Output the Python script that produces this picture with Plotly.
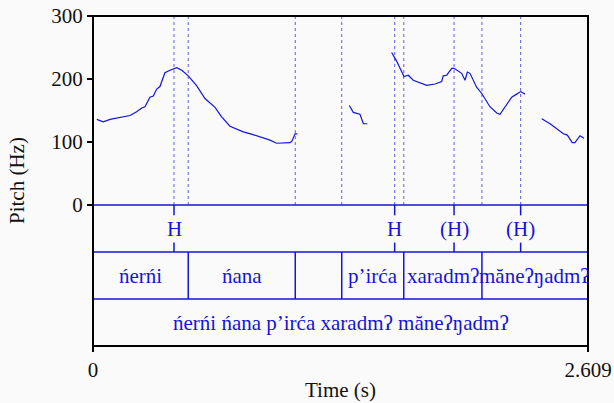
import plotly.graph_objects as go

# ---------------- data ----------------
T_END = 2.609
seg1_t = [0.020, 0.054, 0.090, 0.120, 0.160, 0.195, 0.230, 0.257, 0.274, 0.290, 0.300, 0.318, 0.336, 0.353,
          0.365, 0.379, 0.406, 0.441, 0.468, 0.502, 0.547, 0.590, 0.643, 0.678, 0.722, 0.792, 0.830,
          0.863, 0.933, 0.968, 1.021, 1.038, 1.048, 1.056, 1.065, 1.077]
seg1_f = [136, 132, 136, 138, 140, 142, 148, 154, 156, 165, 171, 173, 184, 188,
          200, 210, 214, 218, 214, 205, 189, 169, 155, 140, 125, 116, 113,
          110, 103, 98, 99, 99, 101, 106, 113, 113]
seg2_t = [1.351, 1.372, 1.407, 1.425, 1.446]
seg2_f = [158, 147, 144, 129, 129]
seg3_t = [1.574, 1.601, 1.639, 1.662, 1.688, 1.759, 1.803, 1.838, 1.846, 1.864, 1.891, 1.903, 1.943,
          1.961, 1.973, 1.987, 2.022, 2.049, 2.092, 2.128, 2.145, 2.207, 2.233, 2.254, 2.277]
seg3_f = [242, 228, 204, 206, 198, 190, 192, 196, 205, 206, 217, 217, 209,
          198, 211, 209, 187, 177, 156, 146, 144, 171, 176, 180, 176]
seg4_t = [2.365, 2.409, 2.479, 2.500, 2.526, 2.540, 2.567, 2.588]
seg4_f = [137, 129, 113, 111, 99, 99, 110, 106]

# tier 1 (points)
tone_times = [0.427, 1.590, 1.903, 2.254]
tone_labels = ["H", "H", "(H)", "(H)"]
# tier 2 (words)
word_bounds = [0.0, 0.502, 1.066, 1.311, 1.638, 2.050, T_END]
word_labels = ["ńerńi", "ńana", "", "p’irća", "xaradmʔ", "măneʔŋadmʔ"]
# tier 3 (phrase)
phrase_bounds = [0.0, T_END]
phrase_labels = ["ńerńi ńana p’irća xaradmʔ măneʔŋadmʔ"]

y_ticks = [0, 100, 200, 300]
x_ticks = [0, T_END]
x_ticktext = ["0", "2.609"]

# ---------------- styling ----------------
BLUE = "#1414d8"
DOT = "rgba(40,40,230,0.75)"
FONT = "Liberation Serif"
FS = 21

ts, fs = [], []
for a, b in [(seg1_t, seg1_f), (seg2_t, seg2_f), (seg3_t, seg3_f), (seg4_t, seg4_f)]:
    ts += a + [None]
    fs += b + [None]

fig = go.Figure()
fig.add_trace(go.Scatter(x=ts, y=fs, mode="lines", line=dict(color=BLUE, width=1.2),
                         connectgaps=False, hoverinfo="skip", xaxis="x", yaxis="y"))

top_frac = 189 / 330
split = 1 - top_frac

shapes = []
# dotted lines in pitch area
for t in sorted(set(tone_times + word_bounds[1:-1])):
    shapes.append(dict(type="line", xref="x", yref="y", x0=t, x1=t, y0=0, y1=300,
                       line=dict(color=DOT, width=1, dash="dot"), layer="above"))
# tier separators
shapes.append(dict(type="line", xref="paper", yref="paper", x0=0, x1=1, y0=split, y1=split,
                   line=dict(color=BLUE, width=1.5), layer="above"))
for yv in [2, 1]:
    shapes.append(dict(type="line", xref="x", yref="y2", x0=0, x1=T_END, y0=yv, y1=yv,
                       line=dict(color=BLUE, width=1.5)))
# word boundaries
for t in word_bounds[1:-1]:
    shapes.append(dict(type="line", xref="x", yref="y2", x0=t, x1=t, y0=1, y1=2,
                       line=dict(color=BLUE, width=1.5)))
# point marks
for t in tone_times:
    shapes.append(dict(type="line", xref="x", yref="y2", x0=t, x1=t, y0=2.78, y1=3,
                       line=dict(color=BLUE, width=1.5)))
    shapes.append(dict(type="line", xref="x", yref="y2", x0=t, x1=t, y0=2, y1=2.2,
                       line=dict(color=BLUE, width=1.5)))
# frame
shapes.append(dict(type="rect", xref="paper", yref="paper", x0=0, x1=1, y0=0, y1=1,
                   line=dict(color="black", width=2), layer="above"))

annotations = []
for t, lab in zip(tone_times, tone_labels):
    annotations.append(dict(x=t, y=2.5, xref="x", yref="y2", text=lab, showarrow=False,
                            font=dict(family=FONT, size=FS, color=BLUE)))
for i, lab in enumerate(word_labels):
    if lab:
        annotations.append(dict(x=(word_bounds[i] + word_bounds[i + 1]) / 2, y=1.5, xref="x", yref="y2",
                                text=lab, showarrow=False, font=dict(family=FONT, size=FS, color=BLUE)))
for i, lab in enumerate(phrase_labels):
    annotations.append(dict(x=(phrase_bounds[i] + phrase_bounds[i + 1]) / 2, y=0.5, xref="x", yref="y2",
                            text=lab, showarrow=False, font=dict(family=FONT, size=FS, color=BLUE)))
# axis titles
annotations.append(dict(x=0, y=0.5, xref="paper", yref="paper", xanchor="center", yanchor="middle",
                        xshift=-76, text="Pitch (Hz)", textangle=-90, showarrow=False,
                        font=dict(family=FONT, size=FS, color="#111")))
annotations.append(dict(x=0.5, y=0, xref="paper", yref="paper", xanchor="center", yanchor="middle",
                        yshift=-44, text="Time (s)", showarrow=False,
                        font=dict(family=FONT, size=FS, color="#111")))

fig.update_layout(
    width=614, height=403,
    margin=dict(l=93, r=26, t=16, b=57, autoexpand=False),
    paper_bgcolor="#fafafa", plot_bgcolor="#fafafa",
    showlegend=False,
    font=dict(family=FONT, size=FS, color="#111"),
    shapes=shapes, annotations=annotations,
    xaxis=dict(range=[0, T_END], anchor="y2", tickvals=x_ticks, ticktext=x_ticktext,
               ticks="outside", ticklen=5, tickwidth=2, tickcolor="black", showgrid=False,
               zeroline=False, showline=False, automargin=False),
    yaxis=dict(domain=[split, 1], range=[0, 300], tickvals=y_ticks,
               ticks="outside", ticklen=5, tickwidth=2, tickcolor="black", showgrid=False,
               zeroline=False, showline=False, automargin=False),
    yaxis2=dict(domain=[0, split], range=[0, 3], showticklabels=False, ticks="",
                showgrid=False, zeroline=False, showline=False, automargin=False),
)

fig.write_html("out.html", config={"displayModeBar": False},
               post_script="document.body.style.margin='0';document.body.style.overflow='hidden';")
